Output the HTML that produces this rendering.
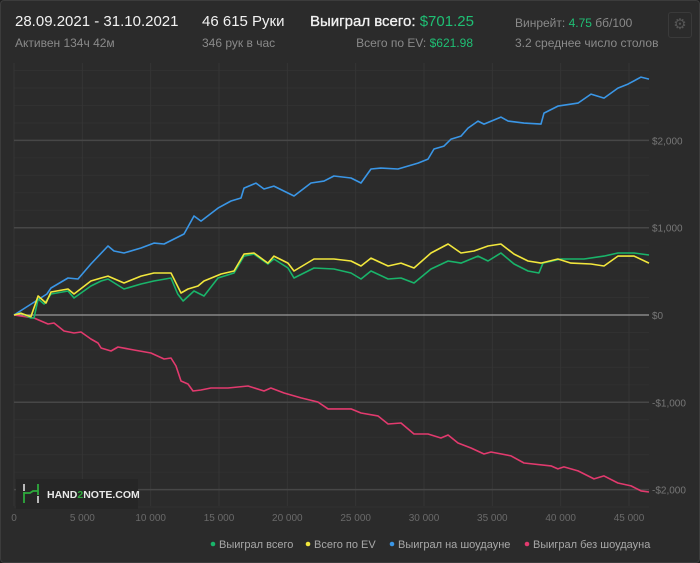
<!DOCTYPE html>
<html><head><meta charset="utf-8"><style>
html,body{margin:0;padding:0;background:#1e1e1e;}
#wrap{position:absolute;left:0;top:0;width:698px;height:561px;background:#2b2b2b;border:1px solid #3c3c3c;border-radius:4px;overflow:hidden;font-family:"Liberation Sans","Noto Sans CJK SC",sans-serif;}
.t{position:absolute;white-space:nowrap;}
.big{font-size:15px;color:#f2f2f2;}
.sm{font-size:12px;color:#8a8a8a;}
.g{color:#1fbf74;}
</style></head><body>
<div id="wrap">
<div class="t big" style="left:14px;top:12px">28.09.2021 - 31.10.2021</div>
<div class="t sm" style="left:14px;top:35px">Активен 134ч 42м</div>
<div class="t big" style="left:201px;top:12px">46 615 Руки</div>
<div class="t sm" style="left:201px;top:35px">346 рук в час</div>
<div class="t big" style="left:309px;top:12px"><b style="font-weight:normal;-webkit-text-stroke:0.3px #f2f2f2">Выиграл всего:</b> <span class="g">$701.25</span></div>
<div class="t sm" style="right:226px;top:35px;color:#8a8a8a">Всего по EV: <span class="g">$621.98</span></div>
<div class="t sm" style="left:514px;top:15px">Винрейт: <span class="g">4.75</span> бб/100</div>
<div class="t sm" style="left:514px;top:35px">3.2 среднее число столов</div>
<div class="t" style="left:667px;top:11px;width:22px;height:24px;border:1px solid #3a3a3a;border-radius:3px;color:#555;font-size:15px;text-align:center;line-height:24px">⚙</div>
<svg id="chart" width="700" height="563" style="position:absolute;left:-1px;top:-1px"></svg>
</div>
<script>
const hands=[0,2.41,2.71,3.95,4.68,5.63,6.88,7.32,8.05,9.29,10.24,10.98,12.44,13.17,13.68,14.93,15.88,16.61,16.83,17.71,18.29,19.02,20.49,21.73,22.68,23.41,24.66,25.39,26.12,26.85,28.10,29.56,30.29,30.73,31.46,31.98,32.71,33.22,33.95,34.39,35.63,36.15,37.32,38.56,38.78,39.80,41.27,42.22,43.17,44.19,44.93,45.88,46.46];
const showdown=[0,240,309,424,412,584,790,733,710,767,824,813,928,1134,1076,1225,1306,1340,1454,1511,1443,1477,1363,1512,1534,1592,1569,1512,1672,1683,1672,1740,1786,1901,1935,2015,2049,2141,2221,2187,2267,2221,2198,2187,2313,2393,2427,2530,2484,2599,2645,2725,2702];
const wonHands=[0,0.5,1.24,1.46,1.76,2.2,2.71,3.95,4.39,5.63,6.37,6.88,8.05,9.29,10.24,11.49,11.98,12.37,13.17,13.9,14.93,16.1,16.83,17.56,18.58,19.02,20.05,20.49,21.95,23.41,24.66,25.39,26.12,27.37,28.32,29.27,30.51,31.76,32.71,33.95,34.68,35.63,36.59,37.61,38.41,38.71,40.02,41.71,43.17,44.19,45.37,46.46];
const won=[0,23,-34,-34,183,126,240,275,195,332,389,412,298,355,389,424,240,160,275,218,424,481,675,698,584,641,538,424,538,527,481,412,504,412,424,366,527,618,595,675,618,710,584,504,481,595,641,641,675,710,710,687];
const evHands=[0,0.5,1.24,1.76,2.34,2.71,3.95,4.39,5.63,6.37,6.88,8.05,9.29,10.24,11.49,12.22,12.73,13.46,13.9,15.15,16.1,16.83,17.56,18.58,19.02,20.05,20.49,21.95,23.41,24.66,25.39,26.12,27.37,28.32,29.27,30.51,31.76,32.71,33.66,34.68,35.63,36.59,37.61,38.56,39.8,40.75,42.22,43.17,44.19,45.37,46.46];
const ev=[0,20,-20,218,137,263,298,240,389,424,446,366,446,481,481,252,298,332,389,470,504,698,710,595,675,595,504,641,641,618,561,652,561,595,538,710,813,710,733,790,813,698,618,595,641,595,584,561,675,675,595];
const nsdHands=[0,1.46,2.49,2.93,3.66,4.39,4.9,5.63,6.15,6.37,7.1,7.61,8.78,10.02,10.98,11.49,11.85,12.22,12.73,13.1,13.68,14.41,15.66,17.12,18.29,18.8,19.76,21,22.24,22.98,24.66,25.39,26.63,27.37,28.32,29.27,30.29,31.24,31.76,32.49,33.44,34.39,34.9,36.37,37.32,39.29,39.8,40.24,41.27,42.44,43.17,44.19,45.15,45.88,46.46];
const nonShowdown=[0,-34,-103,-92,-183,-206,-195,-275,-321,-378,-412,-366,-401,-435,-504,-492,-584,-756,-790,-870,-859,-836,-836,-813,-870,-836,-893,-950,-996,-1076,-1076,-1122,-1156,-1248,-1237,-1363,-1363,-1409,-1374,-1466,-1523,-1592,-1569,-1614,-1695,-1729,-1763,-1740,-1786,-1878,-1843,-1924,-1958,-2015,-2027];
const xTicks=[0,5,10,15,20,25,30,35,40,45];
const xTickLabels=["0","5 000","10 000","15 000","20 000","25 000","30 000","35 000","40 000","45 000"];
const yTicks=[-2000,-1000,0,1000,2000];
const yTickLabels=["-$2,000","-$1,000","$0","$1,000","$2,000"];
const legendNames=["Выиграл всего","Всего по EV","Выиграл на шоудауне","Выиграл без шоудауна"];
const colors=["#19b46a","#f2e73c","#3a96e6","#e23a6e"];

const NS="http://www.w3.org/2000/svg";
const svg=document.getElementById('chart');
const L=14,R=649,T=63,B=506;
const X=h=>L+h*1000*(615/45000);
const Y=v=>315-v*0.0873;
function mk(tag,attrs){const e=document.createElementNS(NS,tag);for(const k in attrs)e.setAttribute(k,attrs[k]);svg.appendChild(e);return e;}
// minor horizontal grid
for(let v=-2200;v<=2800;v+=200){
  if(v%1000===0)continue;
  const l=mk('line',{x1:L,x2:R,y1:Y(v),y2:Y(v),stroke:'#313131','stroke-width':1});
  
  
}
xTicks.forEach((t,i)=>{
  const l=mk('line',{x1:X(t),x2:X(t),y1:T,y2:B,stroke:'#353535','stroke-width':1});
  
  
  const tx=mk('text',{x:X(t),y:521,fill:'#6a6a6a','font-size':10,'text-anchor':'middle','font-family':'Liberation Sans, sans-serif'});
  tx.textContent=xTickLabels[i];
  
  
});
yTicks.forEach((t,i)=>{
  const l=mk('line',{x1:L,x2:R,y1:Y(t),y2:Y(t),stroke:t===0?'#9a9a9a':'#474747','stroke-width':t===0?1.2:1.5});
  
  
  const tx=mk('text',{x:652,y:Y(t)+4,fill:'#777','font-size':10,'font-family':'Liberation Sans, sans-serif'});
  tx.textContent=yTickLabels[i];
  
  
});
// watermark
const wm=mk('rect',{x:16,y:479,width:122,height:30,fill:'#262626'});


const lg=mk('path',{d:'M24 484 V491 M38 496 V503',stroke:'#ddd','stroke-width':1.6,fill:'none'});


const lg2=mk('path',{d:'M24 492 V503 M24 493 H30 L33 491 H38 M38 484 V495',stroke:'#2eaa3c','stroke-width':1.8,fill:'none'});


const wt=mk('text',{x:47,y:498,fill:'#e8e8e8','font-size':10.5,'font-weight':'bold','font-family':'Liberation Sans, sans-serif'});
wt.innerHTML='HAND<tspan fill="#2eaa3c">2</tspan>NOTE.COM';


// series
const series=[[wonHands,won,'series-won-total'],[evHands,ev,'series-ev'],[hands,showdown,'series-showdown'],[nsdHands,nonShowdown,'series-non-showdown']];
const order=[2,3,0,1];
order.forEach(i=>{
  const [hx,vy,name]=series[i];
  const d=hx.map((h,k)=>(k?'L':'M')+X(h).toFixed(1)+' '+Y(vy[k]).toFixed(1)).join(' ');
  const p=mk('path',{d:d,stroke:colors[i],'stroke-width':1.6,fill:'none','stroke-linejoin':'round'});
  
  
});
// legend
const lx=[213,308,392,527];
legendNames.forEach((n,i)=>{
  const c=mk('circle',{cx:lx[i],cy:544,r:2.3,fill:colors[i]});
  
  
  const t=mk('text',{x:lx[i]+6,y:548,fill:'#a8a8a8','font-size':11,'font-family':'Liberation Sans, sans-serif'});
  t.textContent=n;
  
  
});
</script>
</body></html>
